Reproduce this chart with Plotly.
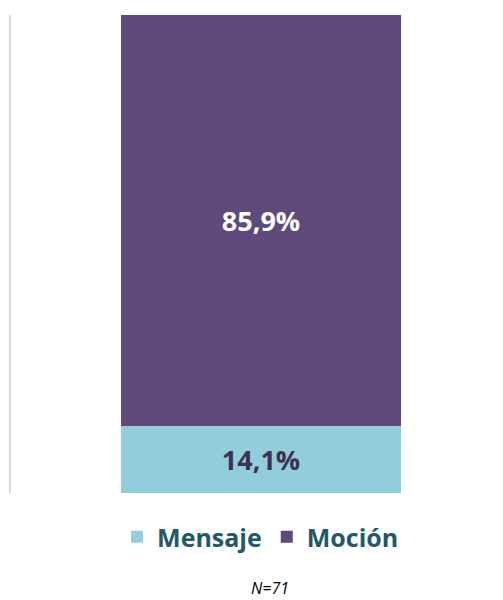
import plotly.graph_objects as go

categories = [""]
series_names = ["Mensaje", "Moción"]
mensaje = [14.1]
mocion = [85.9]
colors = ["#92CDDC", "#604A7B"]
label_colors = ["#3F3151", "#FFFFFF"]

fig = go.Figure()
for name, vals, c, lc in zip(series_names, [mensaje, mocion], colors, label_colors):
    fig.add_trace(go.Bar(
        x=categories, y=vals, name=name, marker=dict(color=c, line=dict(width=0)),
        width=0.56, texttemplate="%{y:.1f}%", textposition="inside",
        insidetextanchor="middle",
        textfont=dict(family="Open Sans", size=27, color=lc, weight="bold"),
        hoverinfo="skip",
    ))

fig.update_layout(
    barmode="stack",
    width=503, height=600,
    margin=dict(l=11, r=0, t=15, b=107),
    paper_bgcolor="white", plot_bgcolor="white",
    separators=",.",
    showlegend=True,
    legend=dict(orientation="h", traceorder="normal", xref="container", yref="container",
                x=0.518, xanchor="center", y=0.105, yanchor="middle",
                font=dict(family="Open Sans", size=25, color="#215968", weight="bold"),
                itemwidth=30),
    xaxis=dict(range=[-0.5, 0.484], showticklabels=False, showgrid=False,
               zeroline=False, showline=False, fixedrange=True),
    yaxis=dict(range=[0, 100], showticklabels=False, showgrid=False, zeroline=False,
               showline=True, linecolor="#D9D9D9", linewidth=2, ticks=""),
)
fig.add_annotation(text="<i>N=71</i>", xref="paper", yref="paper",
                   x=(270 - 11) / 492, y=-(588 - 493) / 478, yanchor="middle",
                   showarrow=False,
                   font=dict(family="Open Sans", size=16, color="#000000"))
fig.write_html("out.html")
